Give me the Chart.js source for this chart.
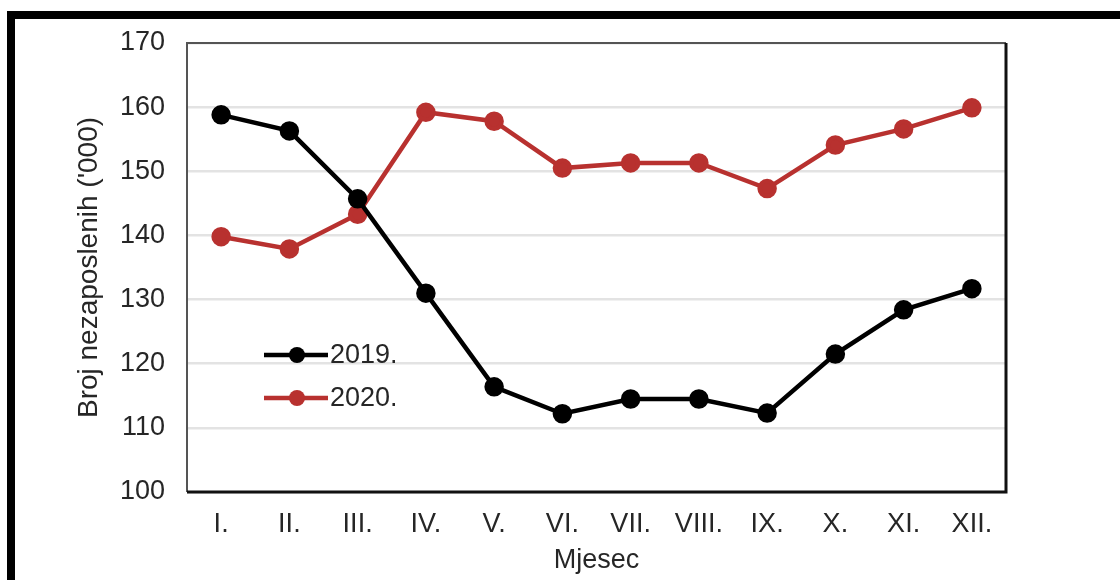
<!DOCTYPE html>
<html>
<head>
<meta charset="utf-8">
<script src="https://cdn.jsdelivr.net/npm/chart.js@4/dist/chart.umd.min.js"></script>
<style>
  html, body { margin: 0; padding: 0; background: #fff; }
  #wrap { position: relative; width: 1120px; height: 580px; overflow: hidden; }
  #frame {
    position: absolute; left: 7px; top: 11px; width: 1200px; height: 700px;
    border-top: 8px solid #000; border-left: 8px solid #000;
  }
  canvas { position: absolute; left: 0; top: 0; }
</style>
</head>
<body>
<div id="wrap">
  <div id="frame"></div>
  <canvas id="chart" width="1120" height="580"></canvas>
</div>
<script>
// podaci
const months = ["I.", "II.", "III.", "IV.", "V.", "VI.", "VII.", "VIII.", "IX.", "X.", "XI.", "XII."];
const values2019 = [158.8, 156.3, 145.7, 131.0, 116.4, 112.2, 114.5, 114.5, 112.3, 121.5, 128.4, 131.7];
const values2020 = [139.8, 137.9, 143.3, 159.2, 157.8, 150.5, 151.3, 151.3, 147.3, 154.1, 156.6, 159.9];
const yTicks = [100, 110, 120, 130, 140, 150, 160, 170];

const FONT = "'Liberation Sans', Arial, sans-serif";
const textColor = "#262626";

// okvir oko podrucja crtanja
const plotBorder = {
  id: "plotBorder",
  afterDatasetsDraw(chart) {
    const { ctx, chartArea: a } = chart;
    ctx.save();
    ctx.strokeStyle = "#555";
    ctx.lineWidth = 2;
    ctx.beginPath();
    ctx.moveTo(a.left, a.bottom);
    ctx.lineTo(a.left, a.top);
    ctx.lineTo(a.right, a.top);
    ctx.stroke();
    ctx.strokeStyle = "#111";
    ctx.lineWidth = 3;
    ctx.beginPath();
    ctx.moveTo(a.right, a.top);
    ctx.lineTo(a.right, a.bottom);
    ctx.lineTo(a.left, a.bottom);
    ctx.stroke();
    ctx.restore();
  },
};

// legenda unutar grafa
const insideLegend = {
  id: "insideLegend",
  afterDraw(chart) {
    const { ctx, chartArea: a } = chart;
    const x0 = a.left + 77;
    let y = a.top + 312;
    ctx.save();
    chart.data.datasets.forEach((ds) => {
      ctx.strokeStyle = ds.borderColor;
      ctx.lineWidth = 4.5;
      ctx.beginPath();
      ctx.moveTo(x0, y);
      ctx.lineTo(x0 + 64, y);
      ctx.stroke();
      ctx.fillStyle = ds.borderColor;
      ctx.beginPath();
      ctx.arc(x0 + 33, y, 8, 0, Math.PI * 2);
      ctx.fill();
      ctx.fillStyle = textColor;
      ctx.font = "27px " + FONT;
      ctx.textBaseline = "middle";
      ctx.fillText(ds.label, x0 + 66, y + 1);
      y += 43;
    });
    ctx.restore();
  },
};

new Chart(document.getElementById("chart"), {
  type: "line",
  data: {
    labels: months,
    datasets: [
      {
        label: "2019.",
        data: values2019,
        borderColor: "#000000",
        backgroundColor: "#000000",
        borderWidth: 4.5,
        pointRadius: 7.5,
        pointHoverRadius: 7.5,
        tension: 0,
      },
      {
        label: "2020.",
        data: values2020,
        borderColor: "#b8312f",
        backgroundColor: "#b8312f",
        borderWidth: 4.5,
        pointRadius: 7.5,
        pointHoverRadius: 7.5,
        tension: 0,
      },
    ],
  },
  options: {
    responsive: false,
    animation: false,
    layout: { padding: { top: 43, right: 114, left: 0, bottom: 0 } },
    plugins: {
      legend: { display: false },
      tooltip: { enabled: false },
    },
    scales: {
      x: {
        offset: true,
        grid: { display: false, drawTicks: false },
        border: { display: false },
        ticks: { color: textColor, font: { family: FONT, size: 27 }, padding: 16, maxRotation: 0 },
        title: {
          display: true,
          text: "Mjesec",
          color: textColor,
          font: { family: FONT, size: 27 },
          padding: { top: 0, bottom: 3 },
        },
        afterFit(scale) { scale.height = 88; },
      },
      y: {
        min: 100,
        max: 170,
        afterBuildTicks(scale) { scale.ticks = yTicks.map((v) => ({ value: v })); },
        grid: { color: "#e3e3e3", lineWidth: 2.5, drawTicks: false },
        border: { display: false },
        ticks: { color: textColor, font: { family: FONT, size: 27 }, padding: 22 },
        title: {
          display: true,
          text: "Broj nezaposlenih ('000)",
          color: textColor,
          font: { family: FONT, size: 28 },
          padding: { top: 72, bottom: 0 },
        },
        afterFit(scale) { scale.width = 187; },
      },
    },
  },
  plugins: [plotBorder, insideLegend],
});
</script>
</body>
</html>
